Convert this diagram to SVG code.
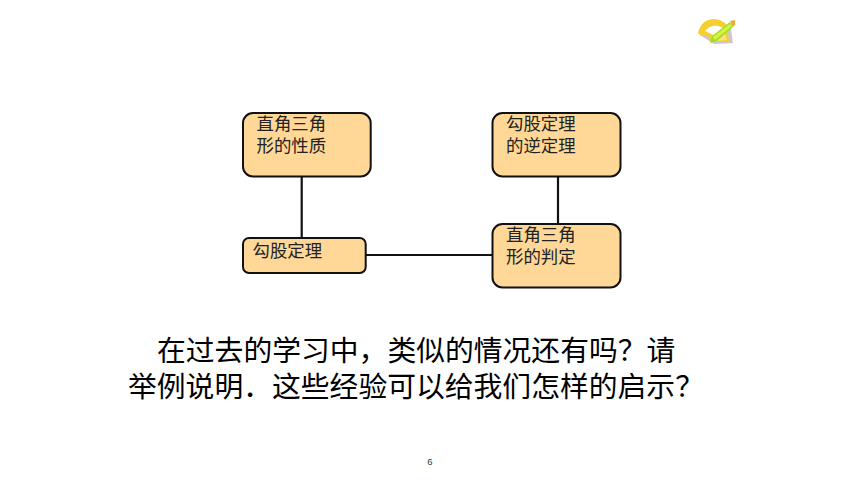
<svg xmlns="http://www.w3.org/2000/svg" width="860" height="484" viewBox="0 0 860 484">
<style>
.box{fill:#ffd797;stroke:#111;stroke-width:2}
.lbl{font-family:"Noto Sans CJK SC","Liberation Serif",sans-serif;font-size:17.4px;fill:#222}
.q{font-family:"Noto Sans CJK SC","Liberation Serif",sans-serif;font-size:28.8px;fill:#000}
.conn{stroke:#111;fill:none}
</style>
<defs><filter id="soft" x="-10%" y="-10%" width="120%" height="120%"><feGaussianBlur stdDeviation="0.6"/></filter></defs>
<rect width="860" height="484" fill="#fff"/>
<g id="icon" filter="url(#soft)">
<path d="M700 35Q704 22 717 22Q727 23 731 29L733 43L714 44Z" fill="#c9c9c9"/>
<path d="M698 33Q701 20 713 19Q722 19 727 25L729 41L711 42L708 36L701 36Z" fill="#f6cf2e"/>
<path d="M705 31Q710 25 718 26Q723 27 724 30L713 35Z" fill="#fff"/>
<path d="M714 38L724 30L727 40L716 41Z" fill="#fbe27a"/>
<path d="M710 43L712 36L730 22L734 26L717 41Z" fill="#9fe02c"/>
<path d="M713 37L730 24L732 26L715 40Z" fill="#d9f23e"/>
<path d="M730 21L735 20L735 25L733 26Z" fill="#f2a63a"/>
</g>
<g id="connectors">
<line class="conn" x1="301.700" y1="176" x2="301.700" y2="238" stroke-width="2.200"/>
<line class="conn" x1="558" y1="176" x2="558" y2="224" stroke-width="2.200"/>
<line class="conn" x1="366" y1="255" x2="492" y2="255" stroke-width="1.800"/>
</g>
<g id="node-1"><rect class="box" x="243" y="113" width="127.700" height="63.500" rx="10"/>
<text class="lbl" x="256.500" y="130">直角三角</text><text class="lbl" x="256.500" y="152">形的性质</text></g>
<g id="node-2"><rect class="box" x="492.500" y="113" width="128" height="63.500" rx="10"/>
<text class="lbl" x="506" y="130">勾股定理</text><text class="lbl" x="506" y="152">的逆定理</text></g>
<g id="node-3"><rect class="box" x="243" y="238" width="122.700" height="35" rx="6"/>
<text class="lbl" x="252.500" y="257">勾股定理</text></g>
<g id="node-4"><rect class="box" x="492.500" y="224" width="128" height="63.500" rx="10"/>
<text class="lbl" x="506" y="241">直角三角</text><text class="lbl" x="506" y="263">形的判定</text></g>
<g id="question">
<text class="q" x="157" y="361">在过去的学习中，类似的情况还有吗？请</text>
<text class="q" x="128" y="397">举例说明．这些经验可以给我们怎样的启示？</text>
</g>
<text id="page" x="430" y="465" text-anchor="middle" font-family="Liberation Sans, sans-serif" font-size="9.500" fill="#333">6</text>
</svg>
